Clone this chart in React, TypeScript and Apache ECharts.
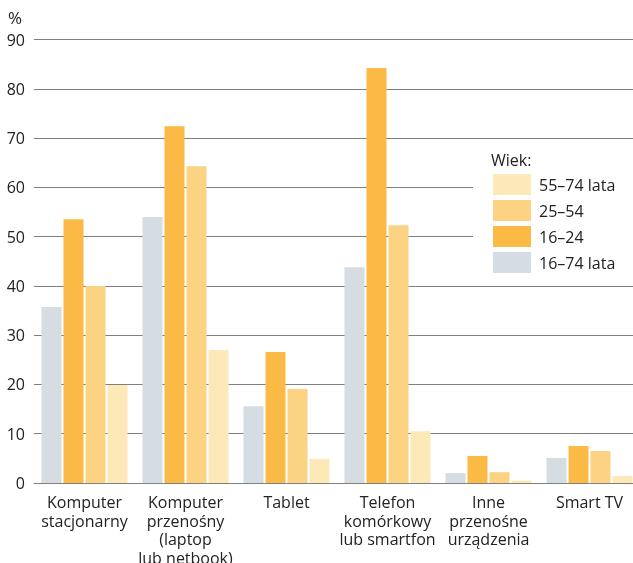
import React, { useEffect, useRef } from "react";
import * as echarts from "echarts";

const categories = [
  "Komputer\nstacjonarny",
  "Komputer\nprzenośny\n(laptop\nlub netbook)",
  "Tablet",
  "Telefon\nkomórkowy\nlub smartfon",
  "Inne\nprzenośne\nurządzenia",
  "Smart TV",
];
const all16to74 = [35.7, 54.0, 15.6, 43.8, 2.0, 5.1];
const age16to24 = [53.5, 72.4, 26.6, 84.2, 5.5, 7.5];
const age25to54 = [40.0, 64.3, 19.1, 52.3, 2.2, 6.5];
const age55to74 = [19.9, 27.0, 4.9, 10.5, 0.5, 1.4];
const seriesNames = ["16–74 lata", "16–24", "25–54", "55–74 lata"];
const legendOrder = ["55–74 lata", "25–54", "16–24", "16–74 lata"];
const colors = ["#d5dce2", "#fbb946", "#fcd383", "#fde8b8"];

const FONT = "'Open Sans', sans-serif";

export default function App() {
  const ref = useRef<HTMLDivElement>(null);
  useEffect(() => {
    if (!ref.current) return;
    const chart = echarts.init(ref.current, null, { renderer: "svg" });
    const data = [all16to74, age16to24, age25to54, age55to74];
    chart.setOption({
      animation: false,
      textStyle: { fontFamily: FONT },
      grid: {
        left: 34,
        right: -7,
        top: 39.5,
        bottom: 80,
        containLabel: false,
        outerBoundsMode: "none",
      },
      xAxis: {
        type: "category",
        data: categories,
        axisTick: { show: false },
        axisLine: { lineStyle: { color: "#808080", width: 1 } },
        axisLabel: {
          interval: 0,
          margin: 10,
          color: "#222",
          fontSize: 16,
          lineHeight: 18.5,
          fontFamily: FONT,
        },
      },
      yAxis: {
        type: "value",
        min: 0,
        max: 90,
        interval: 10,
        axisLine: { show: false },
        axisTick: { show: false },
        splitLine: { lineStyle: { color: "#808080", width: 1 } },
        axisLabel: { margin: 9, color: "#222", fontSize: 16, fontFamily: FONT },
      },
      legend: {
        data: legendOrder,
        orient: "vertical",
        left: 493,
        top: 174,
        padding: 0,
        itemWidth: 38,
        itemHeight: 21,
        itemGap: 5,
        icon: "rect",
        z: 10,
        textStyle: {
          color: "#222",
          fontSize: 16,
          fontFamily: FONT,
          padding: [0, 0, 0, 3],
        },
      },
      graphic: [
        {
          type: "rect",
          z: 5,
          shape: { x: 473, y: 145, width: 170, height: 134 },
          style: { fill: "#ffffff" },
        },
        {
          type: "text",
          z: 6,
          x: 491,
          y: 160,
          style: {
            text: "Wiek:",
            fill: "#222",
            font: `16px ${FONT}`,
            verticalAlign: "middle",
          },
        },
        {
          type: "text",
          z: 6,
          x: 8,
          y: 17,
          style: {
            text: "%",
            fill: "#222",
            font: `17px ${FONT}`,
            verticalAlign: "middle",
          },
        },
      ],
      series: seriesNames.map((name, i) => ({
        name,
        type: "bar",
        data: data[i],
        barWidth: 20,
        barGap: "10%",
        itemStyle: { color: colors[i] },
      })),
    });
    return () => chart.dispose();
  }, []);
  return (
    <div
      ref={ref}
      style={{ position: "fixed", left: 0, top: 0, width: 633, height: 563 }}
    />
  );
}
